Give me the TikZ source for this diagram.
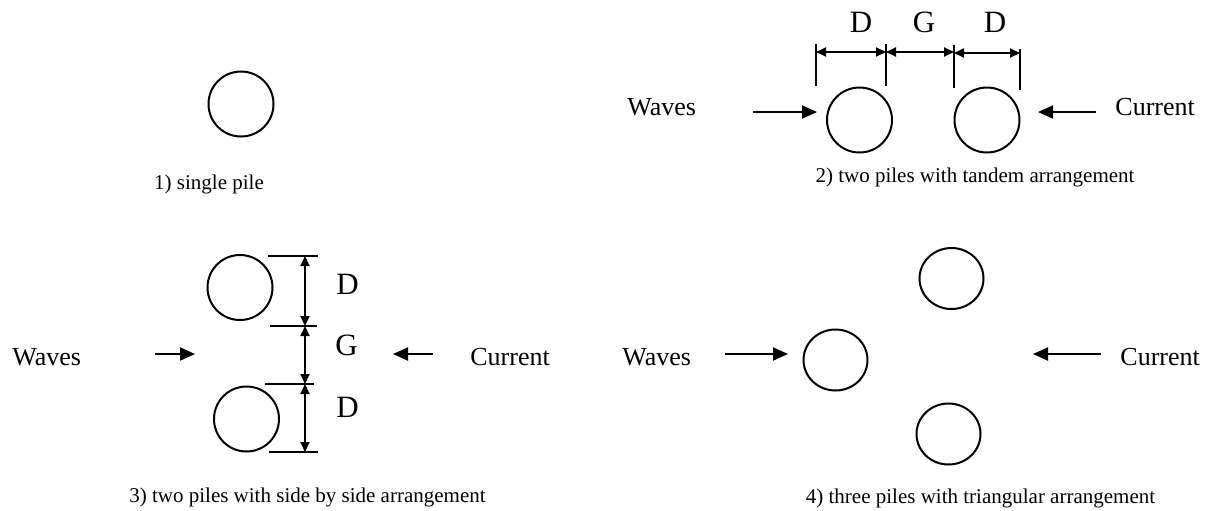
\documentclass[tikz,border=0pt]{standalone}
\usepackage{fontspec}
\setmainfont{Liberation Serif}
\usetikzlibrary{arrows.meta,shapes.geometric}
\begin{document}
\begin{tikzpicture}[x=0.5pt,y=-0.5pt,
  pile/.style={draw,line width=1pt,circle,minimum size=32.5pt,inner sep=0pt},
  pileo/.style={draw,line width=1pt,ellipse,minimum width=32pt,minimum height=30.5pt,inner sep=0pt},
  lbl/.style={font=\fontsize{13}{15}\selectfont,anchor=base west,inner sep=0pt},
  dimlbl/.style={font=\fontsize{15.5}{18}\selectfont,anchor=base,inner sep=0pt},
  captxt/.style={font=\fontsize{10.5}{12}\selectfont,anchor=base,inner sep=0pt},
  flow/.style={line width=1pt,-{Triangle[length=7.5pt,width=6.5pt]}},
  dimarr/.style={line width=1pt,{Triangle[length=5pt,width=4.5pt]}-{Triangle[length=5pt,width=4.5pt]}},
  ext/.style={line width=1pt}]
\useasboundingbox (0,0) rectangle (1211,510);

% 1) single pile
\node[pile] (s1) at (241,104) {};
\node[captxt] (c1) at (209,189) {1) single pile};

% 2) tandem
\node[pile] (t1) at (859.5,120) {};
\node[pile] (t2) at (987,120) {};
\node[lbl] (tw) at (627,115) {Waves};
\node[lbl] (tc) at (1115,115) {Current};
\coordinate (twa) at (753,112);
\coordinate (twb) at (817,112);
\coordinate (tca) at (1096,112);
\coordinate (tcb) at (1038,112);
\draw[flow] (twa) -- (twb);
\draw[flow] (tca) -- (tcb);
\coordinate (k1a) at (816,44);  \coordinate (k1b) at (816,86);
\coordinate (k2a) at (886,44);  \coordinate (k2b) at (886,86);
\coordinate (k3a) at (954,45);  \coordinate (k3b) at (954,88);
\coordinate (k4a) at (1020,49); \coordinate (k4b) at (1020,90);
\draw[ext] (k1a) -- (k1b);
\draw[ext] (k2a) -- (k2b);
\draw[ext] (k3a) -- (k3b);
\draw[ext] (k4a) -- (k4b);
\coordinate (d1) at (816,52);
\coordinate (d2) at (886,52);
\coordinate (d3) at (954,52);
\coordinate (d3b) at (954,53);
\coordinate (d4) at (1020,53);
\draw[dimarr] (d1) -- (d2);
\draw[dimarr] (d2) -- (d3);
\draw[dimarr] (d3b) -- (d4);
\node[dimlbl] (tD1) at (861,32) {D};
\node[dimlbl] (tG) at (924,32) {G};
\node[dimlbl] (tD2) at (995,32) {D};
\node[captxt] (c2) at (975,182) {2) two piles with tandem arrangement};

% 3) side by side
\node[pile] (b1) at (240,287.5) {};
\node[pile] (b2) at (246.5,419) {};
\coordinate (h1a) at (268,256); \coordinate (h1b) at (318,256);
\coordinate (h2a) at (270,326); \coordinate (h2b) at (317,326);
\coordinate (h3a) at (265,384); \coordinate (h3b) at (314,384);
\coordinate (h4a) at (269,452); \coordinate (h4b) at (318,452);
\draw[ext] (h1a) -- (h1b);
\draw[ext] (h2a) -- (h2b);
\draw[ext] (h3a) -- (h3b);
\draw[ext] (h4a) -- (h4b);
\coordinate (v1) at (305,256);
\coordinate (v2) at (305,326);
\coordinate (v3) at (305,384);
\coordinate (v4) at (305,452);
\draw[dimarr] (v1) -- (v2);
\draw[dimarr] (v2) -- (v3);
\draw[dimarr] (v3) -- (v4);
\node[dimlbl] (bD1) at (347.5,294) {D};
\node[dimlbl] (bG) at (346.5,355) {G};
\node[dimlbl] (bD2) at (347.5,417) {D};
\node[lbl] (bw) at (12,365) {Waves};
\node[lbl] (bc) at (470,365) {Current};
\coordinate (bwa) at (155,354);
\coordinate (bwb) at (195,354);
\coordinate (bca) at (433,354);
\coordinate (bcb) at (393,354);
\draw[flow] (bwa) -- (bwb);
\draw[flow] (bca) -- (bcb);
\node[captxt] (c3) at (307.5,502) {3) two piles with side by side arrangement};

% 4) triangular
\node[pileo] (r1) at (951.5,278.5) {};
\node[pileo] (r2) at (835.5,360) {};
\node[pileo] (r3) at (948.5,434) {};
\node[lbl] (rw) at (622,365) {Waves};
\node[lbl] (rc) at (1120,365) {Current};
\coordinate (rwa) at (725,354);
\coordinate (rwb) at (788,354);
\coordinate (rca) at (1101,354);
\coordinate (rcb) at (1033,354);
\draw[flow] (rwa) -- (rwb);
\draw[flow] (rca) -- (rcb);
\node[captxt] (c4) at (980.5,503) {4) three piles with triangular arrangement};
\end{tikzpicture}
\end{document}
